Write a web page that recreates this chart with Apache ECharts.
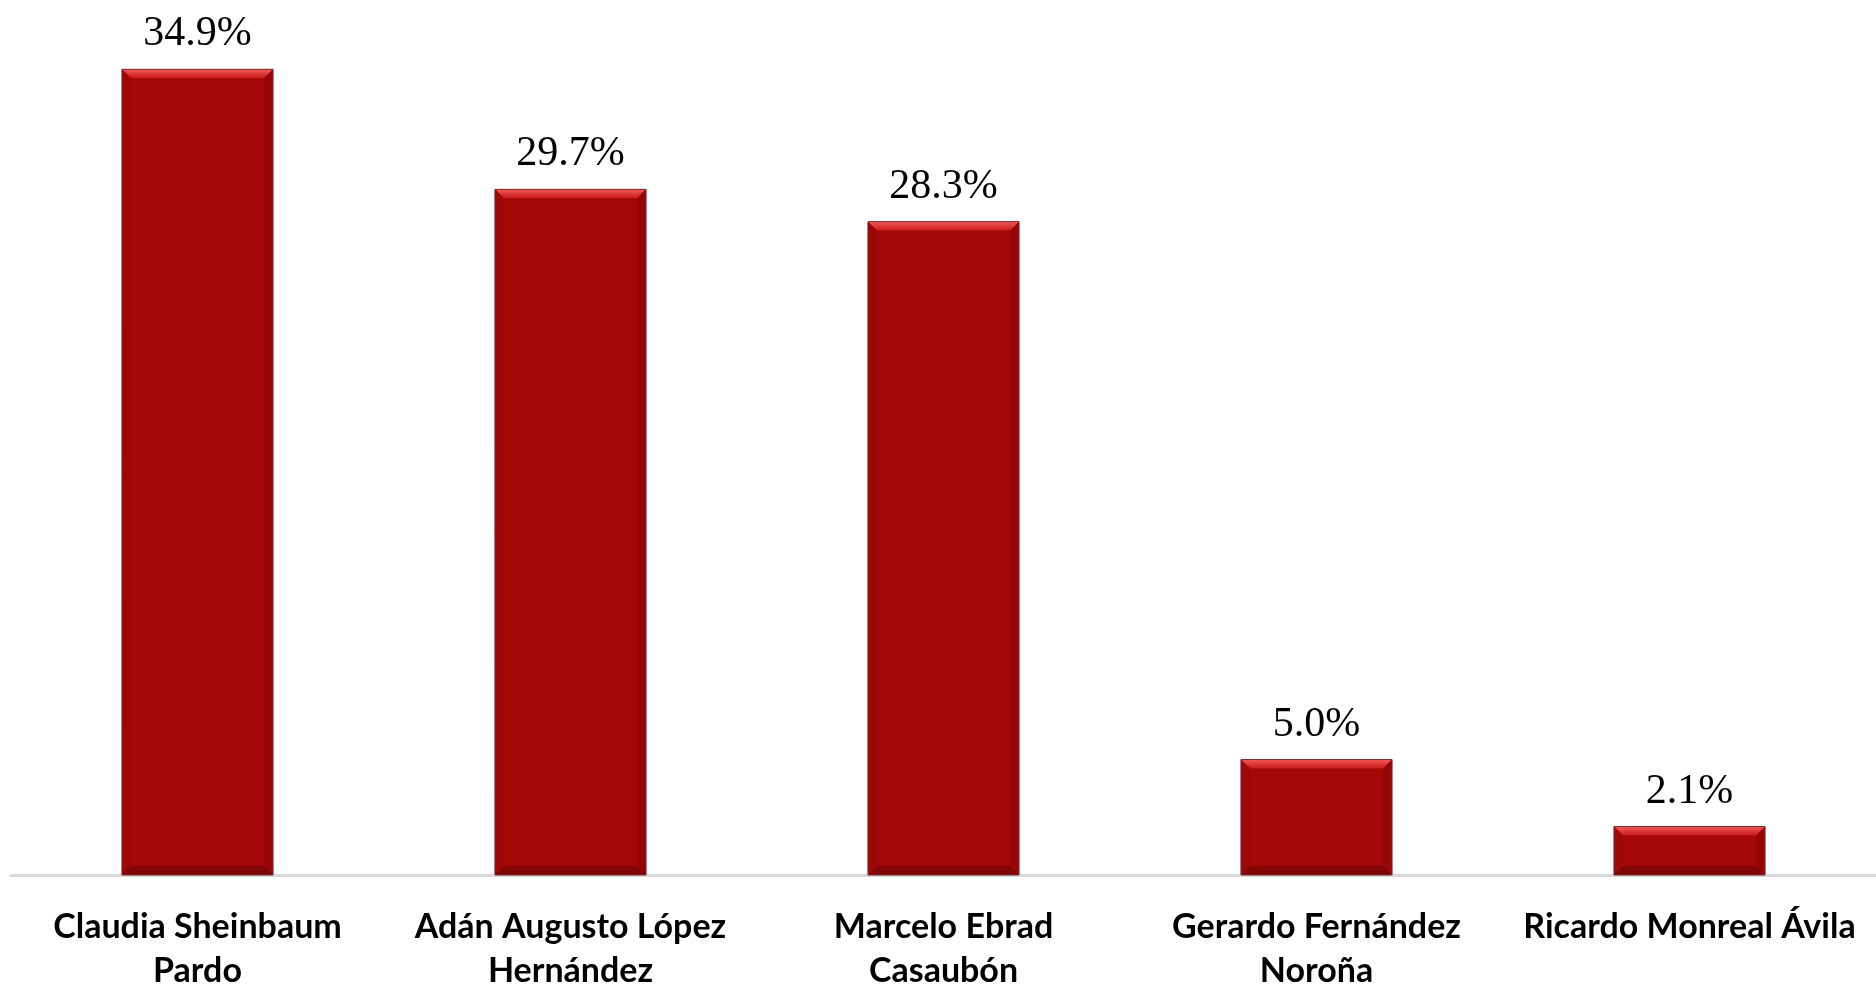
<!DOCTYPE html>
<html>
<head>
<meta charset="utf-8">
<script src="https://cdn.jsdelivr.net/npm/echarts@6/dist/echarts.min.js"></script>
<style>
html,body{margin:0;padding:0;background:#fff;overflow:hidden;}
#chart{width:1876px;height:985px;}
</style>
</head>
<body>
<div id="chart"></div>
<script>
const categories = [
  "Claudia Sheinbaum\nPardo",
  "Adán Augusto López\nHernández",
  "Marcelo Ebrad\nCasaubón",
  "Gerardo Fernández\nNoroña",
  "Ricardo Monreal Ávila"
];
const values = [34.9, 29.7, 28.3, 5.0, 2.1];

const chart = echarts.init(document.getElementById('chart'), null, {renderer: 'canvas'});
const bevel = 9;

const option = {
  backgroundColor: '#ffffff',
  animation: false,
  grid: {left: 11, right: 0, top: 67, bottom: 110, containLabel: false, outerBoundsMode: 'none'},
  xAxis: {
    type: 'category',
    data: categories,
    axisLine: {show: true, lineStyle: {color: '#d9d9d9', width: 3}},
    axisTick: {show: false},
    axisLabel: {
      interval: 0,
      margin: 30,
      color: '#000000',
      fontFamily: 'Lato, "Liberation Sans", sans-serif',
      fontWeight: 'bold',
      fontSize: 34,
      lineHeight: 44,
      overflow: 'none'
    }
  },
  yAxis: {
    type: 'value',
    min: 0,
    max: 35,
    show: false,
    splitLine: {show: false}
  },
  series: [
    {
      type: 'bar',
      data: values,
      barWidth: '40.5%',
      itemStyle: {
        color: '#a30707',
        borderColor: '#7d1a1a',
        borderWidth: 1
      },
      label: {
        show: true,
        position: 'top',
        distance: 14,
        color: '#000000',
        fontFamily: '"Liberation Serif", "Times New Roman", serif',
        fontSize: 42,
        formatter: p => p.value.toFixed(1) + '%'
      },
      z: 2
    },
    {
      type: 'custom',
      silent: true,
      z: 3,
      data: values.map((v, i) => [i, v]),
      renderItem: function (params, api) {
        const top = api.coord([api.value(0), api.value(1)]);
        const base = api.coord([api.value(0), 0]);
        const bw = api.size([1, 0])[0] * 0.405;
        const x0 = top[0] - bw / 2, x1 = top[0] + bw / 2;
        const y0 = top[1], y1 = base[1];
        const b = Math.min(bevel, (y1 - y0) / 3);
        return {
          type: 'group',
          children: [
            {type: 'polygon', shape: {points: [[x0, y0], [x1, y0], [x1 - b, y0 + b], [x0 + b, y0 + b]]},
             style: {fill: {type: 'linear', x: 0, y: 0, x2: 0, y2: 1, colorStops: [{offset: 0, color: '#f25a5a'}, {offset: 1, color: '#c81818'}]}}},
            {type: 'polygon', shape: {points: [[x0, y0], [x0 + b, y0 + b], [x0 + b, y1 - b], [x0, y1]]},
             style: {fill: '#9c0707'}},
            {type: 'polygon', shape: {points: [[x1, y0], [x1 - b, y0 + b], [x1 - b, y1 - b], [x1, y1]]},
             style: {fill: '#960606'}},
            {type: 'polygon', shape: {points: [[x0, y1], [x0 + b, y1 - b], [x1 - b, y1 - b], [x1, y1]]},
             style: {fill: '#800505'}},
            {type: 'rect', shape: {x: x0, y: y0, width: bw, height: y1 - y0},
             style: {fill: 'none', stroke: '#7a2a2a', lineWidth: 1}}
          ]
        };
      }
    }
  ]
};
chart.setOption(option);
</script>
</body>
</html>
